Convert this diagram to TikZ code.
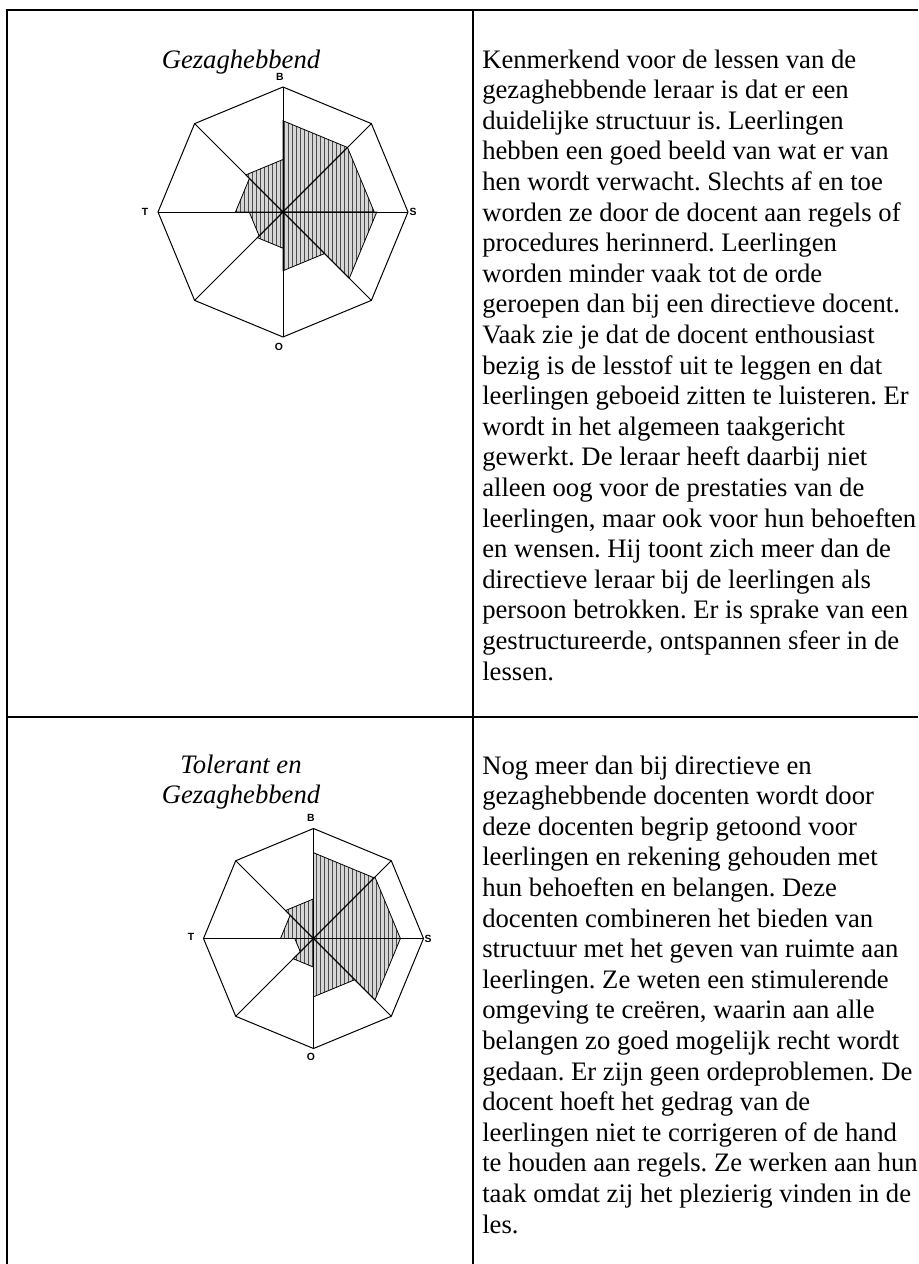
\documentclass[tikz,border=0pt]{standalone}
\usepackage{fontspec}
\setmainfont{Liberation Serif}
\newfontfamily\axisfont{Liberation Sans}
\usetikzlibrary{patterns}
\frenchspacing

\tikzset{
  frame/.style={line width=2pt},
  octline/.style={line width=0.75pt},
  profile/.style={line width=0.6pt, preaction={fill=gray!32}, pattern=vertical lines, pattern color=black!70},
  axislabel/.style={font=\axisfont\bfseries\fontsize{7.8}{8}\selectfont, inner sep=0pt},
  caption/.style={font=\itshape\fontsize{20}{23}\selectfont, inner sep=0pt, anchor=base},
  bodytext/.style={font=\fontsize{20}{22.95}\selectfont, inner sep=0pt, anchor=base west}
}

\begin{document}
\begin{tikzpicture}[x=0.75pt,y=-0.75pt]
\useasboundingbox (0,0) rectangle (918,1264);
\fill[white] (0,0) rectangle (918,1264);

% table
\draw[frame] (7,1264) -- (7,10) -- (918,10);
\draw[frame] (473,10) -- (473,1264);
\draw[frame] (7,717) -- (918,717);

% first row: gezaghebbend
\node[caption] (capA) at (241,68) {Gezaghebbend};
\coordinate (gezag) at (283,212);
\begin{scope}[shift={(gezag)}]
\foreach \r [count=\k from 0] in {0.73,0.73,0.75,0.47,0.29,0.27,0.38,0.42}
  \draw[profile] (0,0) -- ({270+45*\k}:{\r*125}) -- ({315+45*\k}:{\r*125}) -- cycle;
\foreach \a in {0,45,...,315}
  \draw[octline] (0,0) -- (\a:125);
\draw[octline] (0:125) \foreach \a in {45,90,...,315} { -- (\a:125) } -- cycle;
\end{scope}
\node[axislabel] (bA) at (280,77) {B};
\node[axislabel] (sA) at (413,212) {S};
\node[axislabel] (oA) at (279,347) {O};
\node[axislabel] (tA) at (145,212) {T};

\node[bodytext] (textA) at (482,68) {\parbox[t]{420pt}{\raggedright
Kenmerkend voor de lessen van de\\
gezaghebbende leraar is dat er een\\
duidelijke structuur is. Leerlingen\\
hebben een goed beeld van wat er van\\
hen wordt verwacht. Slechts af en toe\\
worden ze door de docent aan regels of\\
procedures herinnerd. Leerlingen\\
worden minder vaak tot de orde\\
geroepen dan bij een directieve docent.\\
Vaak zie je dat de docent enthousiast\\
bezig is de lesstof uit te leggen en dat\\
leerlingen geboeid zitten te luisteren. Er\\
wordt in het algemeen taakgericht\\
gewerkt. De leraar heeft daarbij niet\\
alleen oog voor de prestaties van de\\
leerlingen, maar ook voor hun behoeften\\
en wensen. Hij toont zich meer dan de\\
directieve leraar bij de leerlingen als\\
persoon betrokken. Er is sprake van een\\
gestructureerde, ontspannen sfeer in de\\
lessen.}};

% second row: tolerant en gezaghebbend
\node[caption] (capB) at (241,773) {Tolerant en};
\node[caption] (capC) at (241,803.6) {Gezaghebbend};
\coordinate (toler) at (313.5,938.5);
\begin{scope}[shift={(toler)}]
\foreach \r [count=\k from 0] in {0.78,0.79,0.79,0.53,0.26,0.17,0.30,0.36}
  \draw[profile] (0,0) -- ({270+45*\k}:{\r*110}) -- ({315+45*\k}:{\r*110}) -- cycle;
\foreach \a in {0,45,...,315}
  \draw[octline] (0,0) -- (\a:110);
\draw[octline] (0:110) \foreach \a in {45,90,...,315} { -- (\a:110) } -- cycle;
\end{scope}
\node[axislabel] (bB) at (311,818) {B};
\node[axislabel] (sB) at (428,938.5) {S};
\node[axislabel] (oB) at (311,1057) {O};
\node[axislabel] (tB) at (191,937) {T};

\node[bodytext] (textB) at (482,774) {\parbox[t]{420pt}{\raggedright
Nog meer dan bij directieve en\\
gezaghebbende docenten wordt door\\
deze docenten begrip getoond voor\\
leerlingen en rekening gehouden met\\
hun behoeften en belangen. Deze\\
docenten combineren het bieden van\\
structuur met het geven van ruimte aan\\
leerlingen. Ze weten een stimulerende\\
omgeving te creëren, waarin aan alle\\
belangen zo goed mogelijk recht wordt\\
gedaan. Er zijn geen ordeproblemen. De\\
docent hoeft het gedrag van de\\
leerlingen niet te corrigeren of de hand\\
te houden aan regels. Ze werken aan hun\\
taak omdat zij het plezierig vinden in de\\
les.}};
\end{tikzpicture}
\end{document}
